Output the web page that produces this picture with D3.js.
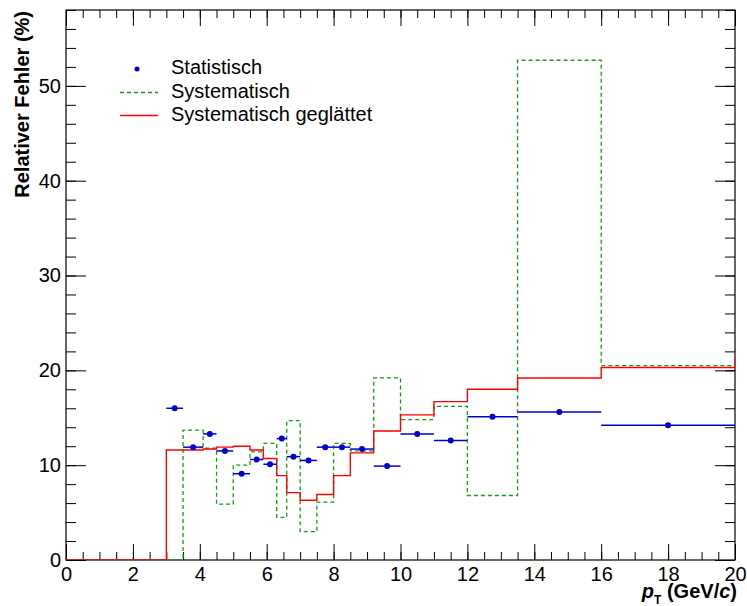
<!DOCTYPE html>
<html>
<head>
<meta charset="utf-8">
<script src="https://cdn.jsdelivr.net/npm/d3@7"></script>
<style>
  body { margin: 0; background: white; }
  svg { display: block; font-family: "Liberation Sans", Arial, Helvetica, sans-serif; }
</style>
</head>
<body>
<div id="chart"></div>
<script>
// bin edges in pT (GeV/c), shared by all three histograms
const binEdges = [0, 3.0, 3.5, 4.1, 4.5, 5.0, 5.5, 5.9, 6.3, 6.6, 7.0, 7.5, 8.0, 8.5, 9.2, 10, 11, 12, 13.5, 16, 20];

// statistical error (%) for bins 3.0 .. 20 (first bin 0-3 is empty)
const statValues = [16.0, 11.9, 13.3, 11.5, 9.1, 10.6, 10.1, 12.8, 10.9, 10.5, 11.9, 11.9, 11.7, 9.9, 13.3, 12.6, 15.1, 15.6, 14.2];

// systematic error (%), one value per bin from 0 to 20
const sysValues = [0, 0, 13.7, 11.8, 5.9, 10.0, 11.4, 12.3, 4.5, 14.7, 3.0, 6.1, 12.3, 11.5, 19.2, 14.8, 16.2, 6.8, 52.7, 20.5];

// smoothed systematic error (%), plus the overflow bin past 20
const smoothValues = [0, 11.6, 11.6, 11.7, 11.9, 12.0, 11.6, 10.7, 8.9, 7.1, 6.3, 6.9, 8.9, 11.3, 13.6, 15.3, 16.7, 18.0, 19.2, 20.3];
const smoothOverflow = 21.3;

const xTicks = [0, 2, 4, 6, 8, 10, 12, 14, 16, 18, 20];
const yTicks = [0, 10, 20, 30, 40, 50];

const legendLabels = ["Statistisch", "Systematisch", "Systematisch geglättet"];

const W = 747, H = 606;
const mLeft = 66, mRight = 735, mTop = 10, mBottom = 560;

let svg = d3.select("#chart")
  .append("svg")
  .attr("width", W)
  .attr("height", H);

let x = d3.scaleLinear().domain([0, 20]).range([mLeft, mRight]);
let y = d3.scaleLinear().domain([0, 58]).range([mBottom, mTop]);

// clip for the histograms
svg.append("clipPath").attr("id", "plotclip")
  .append("rect")
  .attr("x", mLeft).attr("y", mTop)
  .attr("width", mRight - mLeft).attr("height", mBottom - mTop);

// axes: major + minor ticks on all four sides, pointing inwards
function styleAxis(g) {
  g.select(".domain").remove();
  g.selectAll("line").attr("stroke", "black").attr("stroke-width", 1);
  g.selectAll("text").attr("font-size", 20).attr("fill", "black").attr("font-family", null);
}

let xMinor = d3.range(0, 20.01, 0.5);
let yMinor = d3.range(0, 58.01, 2);

svg.append("g")
  .attr("transform", `translate(0,${mBottom})`)
  .call(d3.axisBottom(x).tickValues(xMinor).tickSize(-8).tickFormat(""))
  .call(styleAxis);
svg.append("g")
  .attr("transform", `translate(0,${mBottom})`)
  .call(d3.axisBottom(x).tickValues(xTicks).tickSize(-16).tickPadding(7).tickFormat(d3.format("d")))
  .call(styleAxis);
svg.append("g")
  .attr("transform", `translate(0,${mTop})`)
  .call(d3.axisTop(x).tickValues(xMinor).tickSize(-8).tickFormat(""))
  .call(styleAxis);
svg.append("g")
  .attr("transform", `translate(0,${mTop})`)
  .call(d3.axisTop(x).tickValues(xTicks).tickSize(-16).tickFormat(""))
  .call(styleAxis);

svg.append("g")
  .attr("transform", `translate(${mLeft},0)`)
  .call(d3.axisLeft(y).tickValues(yMinor).tickSize(-10).tickFormat(""))
  .call(styleAxis);
svg.append("g")
  .attr("transform", `translate(${mLeft},0)`)
  .call(d3.axisLeft(y).tickValues(yTicks).tickSize(-20).tickPadding(5).tickFormat(d3.format("d")))
  .call(styleAxis);
svg.append("g")
  .attr("transform", `translate(${mRight},0)`)
  .call(d3.axisRight(y).tickValues(yMinor).tickSize(-10).tickFormat(""))
  .call(styleAxis);
svg.append("g")
  .attr("transform", `translate(${mRight},0)`)
  .call(d3.axisRight(y).tickValues(yTicks).tickSize(-20).tickFormat(""))
  .call(styleAxis);

// frame
svg.append("rect")
  .attr("x", mLeft).attr("y", mTop)
  .attr("width", mRight - mLeft).attr("height", mBottom - mTop)
  .attr("fill", "none")
  .attr("stroke", "black")
  .attr("stroke-width", 1.2);

// histogram outline helper
function histPoints(edges, values) {
  let pts = values.map((v, i) => ({ x: edges[i], y: v }));
  pts.push({ x: edges[values.length], y: values[values.length - 1] });
  return pts;
}
let step = d3.line()
  .x(d => x(d.x))
  .y(d => y(d.y))
  .curve(d3.curveStepAfter);

let plot = svg.append("g").attr("clip-path", "url(#plotclip)");

// systematic (green dashed)
plot.append("path")
  .attr("d", step(histPoints(binEdges, sysValues)))
  .attr("fill", "none")
  .attr("stroke", "#11a011")
  .attr("stroke-width", 1.3)
  .attr("stroke-dasharray", "4,3");

// smoothed systematic (red), overflow bin runs past the frame
let smoothEdges = binEdges.concat([22]);
plot.append("path")
  .attr("d", step(histPoints(smoothEdges, smoothValues.concat([smoothOverflow]))))
  .attr("fill", "none")
  .attr("stroke", "#ff0000")
  .attr("stroke-width", 1.4);

// statistical points with bin-width bars
let statBins = statValues.map((v, i) => ({ lo: binEdges[i + 1], hi: binEdges[i + 2], v: v }));

plot.selectAll(".sbar")
  .data(statBins)
  .enter()
  .append("line")
  .attr("x1", d => x(d.lo))
  .attr("x2", d => x(d.hi))
  .attr("y1", d => y(d.v))
  .attr("y2", d => y(d.v))
  .attr("stroke", "#0000cc")
  .attr("stroke-width", 1.5);

plot.selectAll(".spt")
  .data(statBins)
  .enter()
  .append("circle")
  .attr("cx", d => x((d.lo + d.hi) / 2))
  .attr("cy", d => y(d.v))
  .attr("r", 3)
  .attr("fill", "#0000cc");

// legend
let leg = svg.append("g");
leg.append("circle")
  .attr("cx", 137).attr("cy", 69).attr("r", 2.5)
  .attr("fill", "#0000cc");
leg.append("line")
  .attr("x1", 120).attr("x2", 158).attr("y1", 92.5).attr("y2", 92.5)
  .attr("stroke", "#11a011").attr("stroke-width", 1.3).attr("stroke-dasharray", "4,3");
leg.append("line")
  .attr("x1", 120).attr("x2", 158).attr("y1", 115.5).attr("y2", 115.5)
  .attr("stroke", "#ff0000").attr("stroke-width", 1.4);

leg.selectAll("text")
  .data(legendLabels)
  .enter()
  .append("text")
  .attr("x", 171)
  .attr("y", (d, i) => 74 + i * 23.5)
  .attr("font-size", 20)
  .text(d => d);

// axis titles
svg.append("text")
  .attr("transform", "translate(29,11) rotate(-90)")
  .attr("text-anchor", "end")
  .attr("font-size", 20)
  .attr("font-weight", "bold")
  .text("Relativer Fehler (%)");

let xt = svg.append("text")
  .attr("x", 737)
  .attr("y", 598)
  .attr("text-anchor", "end")
  .attr("font-size", 20)
  .attr("font-weight", "bold");
xt.append("tspan").attr("font-style", "italic").text("p");
xt.append("tspan").attr("font-size", 12).attr("dy", 6).text("T");
xt.append("tspan").attr("dy", -6).text(" (GeV/");
xt.append("tspan").attr("font-style", "italic").text("c");
xt.append("tspan").text(")");
</script>
</body>
</html>
